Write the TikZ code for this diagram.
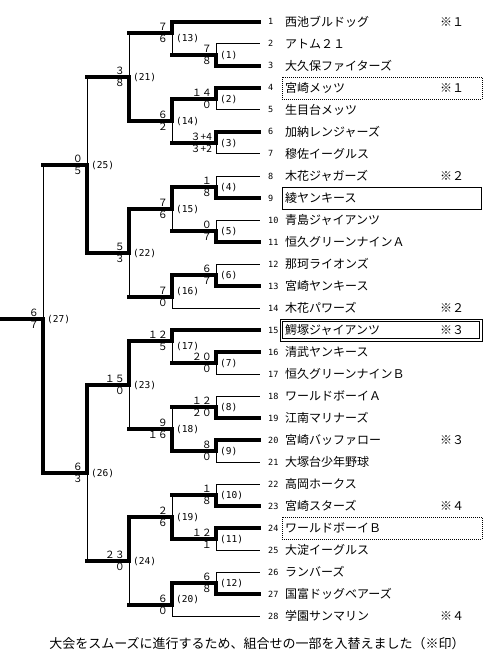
\documentclass[tikz,border=0pt]{standalone}
\usepackage{fontspec}
\newfontfamily\jp{Noto Sans CJK JP}
\newfontfamily\mono{DejaVu Sans Mono}
\newcommand\mygame[9]{%
  \coordinate (#1u) at (#2,#3);
  \coordinate (#1l) at (#2,#4);
  \coordinate (#1o) at (#2,#5);
  \coordinate (#1m) at (#2,{(#3+#4)/2});
  \if u#6
    \draw[lose] (#1o) -- (#1l);
    \draw[win] (#1u) -- (#1o);
  \else
    \draw[lose] (#1u) -- (#1o);
    \draw[win] (#1o) -- (#1l);
  \fi
  \node[score,anchor=base east] (#1a) at ([xshift=-4pt,yshift=2.5pt]#1o) {#7};
  \node[score,anchor=base east] (#1b) at ([xshift=-4pt,yshift=-9.5pt]#1o) {#8};
  \node[lab,anchor=base west] (#1c) at ([xshift=4pt,yshift=-3.3pt]#1m) {(#9)};
}
\begin{document}
\begin{tikzpicture}[x=1pt,y=-1pt,
  win/.style={line width=4pt,line cap=rect},
  lose/.style={line width=1pt,line cap=rect},
  score/.style={font=\jp\fontsize{10pt}{12pt}\selectfont,inner sep=0pt},
  lab/.style={font=\mono\fontsize{9.5pt}{11pt}\selectfont,inner sep=0pt},
  num/.style={font=\mono\fontsize{8.5pt}{11pt}\selectfont,inner sep=0pt,anchor=base west},
  tname/.style={font=\jp\fontsize{12pt}{14pt}\selectfont,inner sep=0pt,anchor=base west},
  dotbox/.style={line width=0.8pt,dash pattern=on 1pt off 1pt},
  solidbox/.style={line width=0.9pt}]
\fill[white] (0,0) rectangle (500,655);
\useasboundingbox (0,0) rectangle (500,655);

% games
\mygame{g1}{216}{44}{66}{55}{l}{７}{８}{1}
\mygame{g2}{216}{88}{110}{99}{u}{１４}{０}{2}
\mygame{g3}{216}{132}{154}{143}{u}{３+4}{３+2}{3}
\mygame{g4}{216}{176}{198}{187}{l}{１}{８}{4}
\mygame{g5}{216}{220}{242}{231}{l}{０}{７}{5}
\mygame{g6}{216}{264}{286}{275}{l}{６}{７}{6}
\mygame{g7}{216}{352}{374}{363}{u}{２０}{０}{7}
\mygame{g8}{216}{396}{418}{407}{l}{１２}{２０}{8}
\mygame{g9}{216}{440}{462}{451}{u}{８}{０}{9}
\mygame{g10}{216}{484}{506}{495}{l}{１}{８}{10}
\mygame{g11}{216}{528}{550}{539}{u}{１２}{１}{11}
\mygame{g12}{216}{572}{594}{583}{l}{６}{８}{12}
\mygame{g13}{172}{22}{55}{33}{u}{７}{６}{13}
\mygame{g14}{172}{99}{143}{121}{u}{６}{２}{14}
\mygame{g15}{172}{187}{231}{209}{u}{７}{６}{15}
\mygame{g16}{172}{275}{308}{297}{u}{７}{０}{16}
\mygame{g17}{172}{330}{363}{341}{u}{１２}{５}{17}
\mygame{g18}{172}{407}{451}{429}{l}{９}{１６}{18}
\mygame{g19}{172}{495}{539}{517}{l}{２}{６}{19}
\mygame{g20}{172}{583}{616}{605}{u}{６}{０}{20}
\mygame{g21}{129}{33}{121}{77}{l}{３}{８}{21}
\mygame{g22}{129}{209}{297}{253}{u}{５}{３}{22}
\mygame{g23}{129}{341}{429}{385}{u}{１５}{０}{23}
\mygame{g24}{129}{517}{605}{561}{u}{２３}{０}{24}
\mygame{g25}{87}{77}{253}{165}{l}{０}{５}{25}
\mygame{g26}{87}{385}{561}{473}{u}{６}{３}{26}
\mygame{g27}{43}{165}{473}{319}{l}{６}{７}{27}

% game to game
\foreach \a/\b in {g1o/g13l,g2o/g14u,g3o/g14l,g4o/g15u,g5o/g15l,g6o/g16u,
  g13o/g21u,g14o/g21l,g15o/g22u,g16o/g22l,g21o/g25u,g22o/g25l,g25o/g27u,
  g7o/g17l,g8o/g18u,g9o/g18l,g10o/g19u,g11o/g19l,g12o/g20u,
  g17o/g23u,g18o/g23l,g19o/g24u,g20o/g24l,g23o/g26u,g24o/g26l,g26o/g27l}
  {\draw[win] (\a) -- (\b);}
\coordinate (champ) at (0,319);
\draw[win] (champ) -- (g27o);

% team lines
\foreach \i/\g/\s in {1/g13u/win,2/g1u/lose,3/g1l/win,4/g2u/win,5/g2l/lose,
  6/g3u/win,7/g3l/lose,8/g4u/lose,9/g4l/win,10/g5u/lose,11/g5l/win,
  12/g6u/lose,13/g6l/win,14/g16l/lose,15/g17u/win,16/g7u/win,17/g7l/lose,
  18/g8u/lose,19/g8l/win,20/g9u/win,21/g9l/lose,22/g10u/lose,23/g10l/win,
  24/g11u/win,25/g11l/lose,26/g12u/lose,27/g12l/win,28/g20l/lose}
  {\coordinate (e\i) at (259,22*\i);
   \draw[\s] (\g) -- (e\i);}

% boxes
\draw[dotbox] (282,77) rectangle (482,99);
\draw[solidbox] (282,187) rectangle (481,209);
\draw[solidbox] (280,319) rectangle (482,341);
\draw[solidbox] (282.5,321.5) rectangle (479.5,338.5);
\draw[dotbox] (282,517) rectangle (482,539);

% team numbers and names
\foreach \i/\nm in {1/西池ブルドッグ,2/アトム２１,3/大久保ファイターズ,4/宮崎メッツ,
  5/生目台メッツ,6/加納レンジャーズ,7/穆佐イーグルス,8/木花ジャガーズ,9/綾ヤンキース,
  10/青島ジャイアンツ,11/恒久グリーンナインＡ,12/那珂ライオンズ,13/宮崎ヤンキース,
  14/木花パワーズ,15/鰐塚ジャイアンツ,16/清武ヤンキース,17/恒久グリーンナインＢ,
  18/ワールドボーイＡ,19/江南マリナーズ,20/宮崎バッファロー,21/大塚台少年野球,
  22/高岡ホークス,23/宮崎スターズ,24/ワールドボーイＢ,25/大淀イーグルス,
  26/ランバーズ,27/国富ドッグベアーズ,28/学園サンマリン}
  {\node[num] (n\i) at (268,{22*\i+3}) {\i};
   \node[tname] (t\i) at (285,{22*\i+4.5}) {\nm};}

% marks
\foreach \i/\k in {1/１,4/１,8/２,14/２,15/３,20/３,23/４,28/４}
  {\node[tname] (mk\i) at (440,{22*\i+4.5}) {※\k};}

\node[font=\jp\fontsize{13pt}{15pt}\selectfont,inner sep=0pt] (note) at (257,644)
  {大会をスムーズに進行するため、組合せの一部を入替えました（※印）};
\end{tikzpicture}
\end{document}
